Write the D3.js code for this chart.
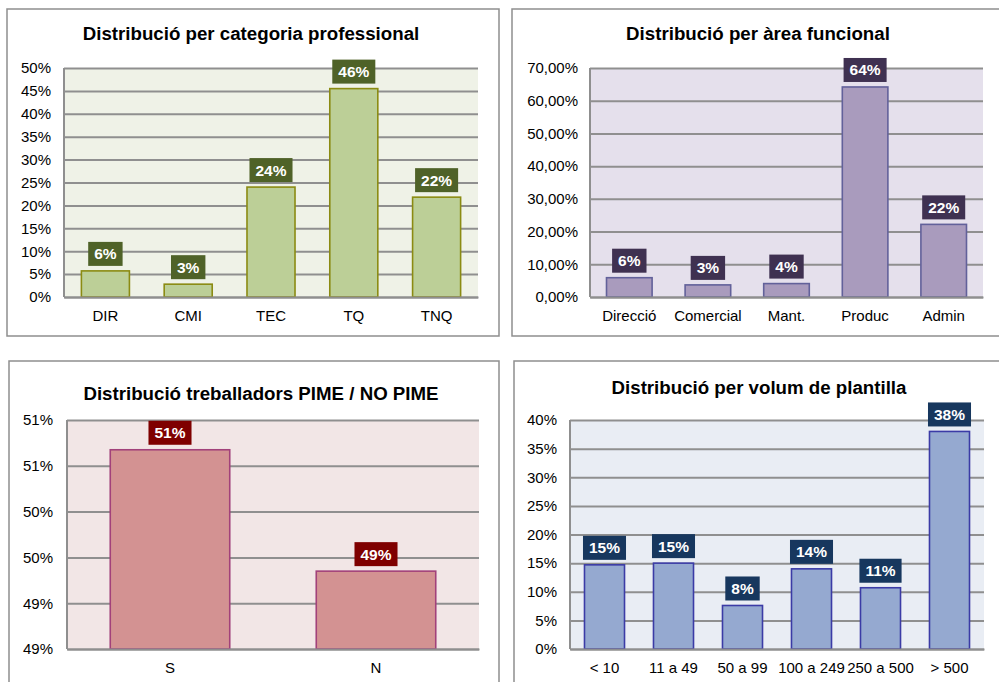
<!DOCTYPE html>
<html>
<head>
<meta charset="utf-8">
<script src="https://cdn.jsdelivr.net/npm/d3@7"></script>
<style>
  html, body { margin: 0; padding: 0; background: #ffffff; }
  svg { display: block; font-family: "Liberation Sans", Arial, sans-serif; }
</style>
</head>
<body>
<svg id="chart" width="999" height="682"></svg>
<script>
// ---- Data ----
const catProf = ["DIR", "CMI", "TEC", "TQ", "TNQ"];
const valProf = [5.7, 2.8, 24.0, 45.5, 21.8];
const lblProf = ["6%", "3%", "24%", "46%", "22%"];
const ticksProf = [0, 5, 10, 15, 20, 25, 30, 35, 40, 45, 50];

const catArea = ["Direcció", "Comercial", "Mant.", "Produc", "Admin"];
const valArea = [5.9, 3.7, 4.1, 64.2, 22.2];
const lblArea = ["6%", "3%", "4%", "64%", "22%"];
const ticksArea = [0, 10, 20, 30, 40, 50, 60, 70];

const catPime = ["S", "N"];
const valPime = [50.74, 49.68];
const lblPime = ["51%", "49%"];
const ticksPime = [49.0, 49.4, 49.8, 50.2, 50.6, 51.0];
const tickLblPime = ["49%", "49%", "50%", "50%", "51%", "51%"];

const catVol = ["< 10", "11 a 49", "50 a 99", "100 a 249", "250 a 500", "> 500"];
const valVol = [14.7, 15.0, 7.6, 14.0, 10.7, 38.0];
const lblVol = ["15%", "15%", "8%", "14%", "11%", "38%"];
const ticksVol = [0, 5, 10, 15, 20, 25, 30, 35, 40];

const svg = d3.select("#chart");

function panel(o) {
  const g = svg.append("g");
  // outer frame
  g.append("rect")
    .attr("x", o.frame[0]).attr("y", o.frame[1])
    .attr("width", o.frame[2]).attr("height", o.frame[3])
    .attr("fill", "#ffffff").attr("stroke", "#8e8e8e").attr("stroke-width", 1.5);

  // title
  g.append("text")
    .attr("x", o.titleX).attr("y", o.titleY)
    .attr("text-anchor", "middle")
    .attr("font-weight", "bold").attr("font-size", 18.7)
    .attr("fill", "#000")
    .text(o.title);

  const x = d3.scaleBand().domain(o.cats).range([o.plot[0], o.plot[1]]).paddingInner(0.42).paddingOuter(0.21);
  const y = d3.scaleLinear().domain(o.domain).range([o.plot[3], o.plot[2]]);

  // plot background
  g.append("rect")
    .attr("x", o.plot[0]).attr("y", o.plot[2])
    .attr("width", o.plot[1] - o.plot[0]).attr("height", o.plot[3] - o.plot[2])
    .attr("fill", o.bg);

  // gridlines
  const yAxis = d3.axisLeft(y).tickValues(o.ticks)
    .tickSize(-(o.plot[1] - o.plot[0])).tickPadding(14)
    .tickFormat((d, i) => o.tickFmt(d, i));
  const ya = g.append("g").attr("transform", `translate(${o.plot[0]},0)`).call(yAxis);
  ya.select(".domain").remove();
  ya.selectAll(".tick line").attr("stroke", "#8f8f8f").attr("stroke-width", 2);
  ya.selectAll(".tick text")
    .attr("font-size", 15).attr("fill", "#000")
    .attr("font-family", '"Liberation Sans", Arial, sans-serif')
    .attr("x", o.tickX - o.plot[0]).attr("text-anchor", "end");

  // left axis line
  g.append("line")
    .attr("x1", o.plot[0]).attr("x2", o.plot[0])
    .attr("y1", o.plot[2]).attr("y2", o.plot[3])
    .attr("stroke", "#8f8f8f").attr("stroke-width", 2);

  // bars
  g.selectAll("rect.bar").data(o.vals).enter().append("rect")
    .attr("class", "bar")
    .attr("x", (d, i) => x(o.cats[i]))
    .attr("width", x.bandwidth())
    .attr("y", d => y(d))
    .attr("height", d => y(o.domain[0]) - y(d))
    .attr("fill", o.barFill).attr("stroke", o.barStroke).attr("stroke-width", 1.6);

  // bottom axis
  const xAxis = d3.axisBottom(x).tickSize(0).tickPadding(13);
  const xa = g.append("g").attr("transform", `translate(0,${o.plot[3]})`).call(xAxis);
  xa.select(".domain").attr("stroke", "#8f8f8f").attr("stroke-width", 2);
  xa.selectAll(".tick text")
    .attr("font-size", 15).attr("fill", "#000")
    .attr("font-family", '"Liberation Sans", Arial, sans-serif');

  // data labels
  const lg = g.selectAll("g.lbl").data(o.vals).enter().append("g").attr("class", "lbl");
  lg.each(function (d, i) {
    const el = d3.select(this);
    const cx = x(o.cats[i]) + x.bandwidth() / 2;
    const bottom = y(d) - 5;
    const t = el.append("text")
      .attr("x", cx).attr("y", bottom - 6.5)
      .attr("text-anchor", "middle")
      .attr("font-weight", "bold").attr("font-size", 15.5)
      .attr("fill", "#ffffff")
      .text(o.labels[i]);
    const w = t.node().getComputedTextLength() + 12;
    el.insert("rect", "text")
      .attr("x", cx - w / 2).attr("y", bottom - 24)
      .attr("width", w).attr("height", 24)
      .attr("fill", o.lblFill);
  });
}

panel({
  frame: [7, 9, 492, 327],
  plot: [64, 478, 68, 297],
  title: "Distribució per categoria professional", titleX: 251, titleY: 40,
  cats: catProf, vals: valProf, labels: lblProf,
  domain: [0, 50], ticks: ticksProf, tickX: 51,
  tickFmt: d => d + "%",
  bg: "#eff2e7", barFill: "#bccf97", barStroke: "#8b8b12", lblFill: "#4f6228"
});

panel({
  frame: [512, 9, 490, 327],
  plot: [590, 983, 68, 297],
  title: "Distribució per àrea funcional", titleX: 758, titleY: 40,
  cats: catArea, vals: valArea, labels: lblArea,
  domain: [0, 70], ticks: ticksArea, tickX: 578,
  tickFmt: d => d3.format(".2f")(d).replace(".", ",") + "%",
  bg: "#e5e0ec", barFill: "#a99bbd", barStroke: "#62619a", lblFill: "#3f3151"
});

panel({
  frame: [9, 361, 490, 340],
  plot: [67, 479, 420, 649],
  title: "Distribució treballadors PIME / NO PIME", titleX: 261, titleY: 400,
  cats: catPime, vals: valPime, labels: lblPime,
  domain: [49.0, 51.0], ticks: ticksPime, tickX: 53,
  tickFmt: (d, i) => tickLblPime[i],
  bg: "#f2e6e6", barFill: "#d39292", barStroke: "#a2417a", lblFill: "#7f0000"
});

panel({
  frame: [514, 361, 490, 340],
  plot: [570, 984, 420, 649],
  title: "Distribució per volum de plantilla", titleX: 759, titleY: 394,
  cats: catVol, vals: valVol, labels: lblVol,
  domain: [0, 40], ticks: ticksVol, tickX: 557,
  tickFmt: d => d + "%",
  bg: "#e9edf4", barFill: "#95a9d0", barStroke: "#3b3ba6", lblFill: "#17375e"
});
</script>
</body>
</html>
